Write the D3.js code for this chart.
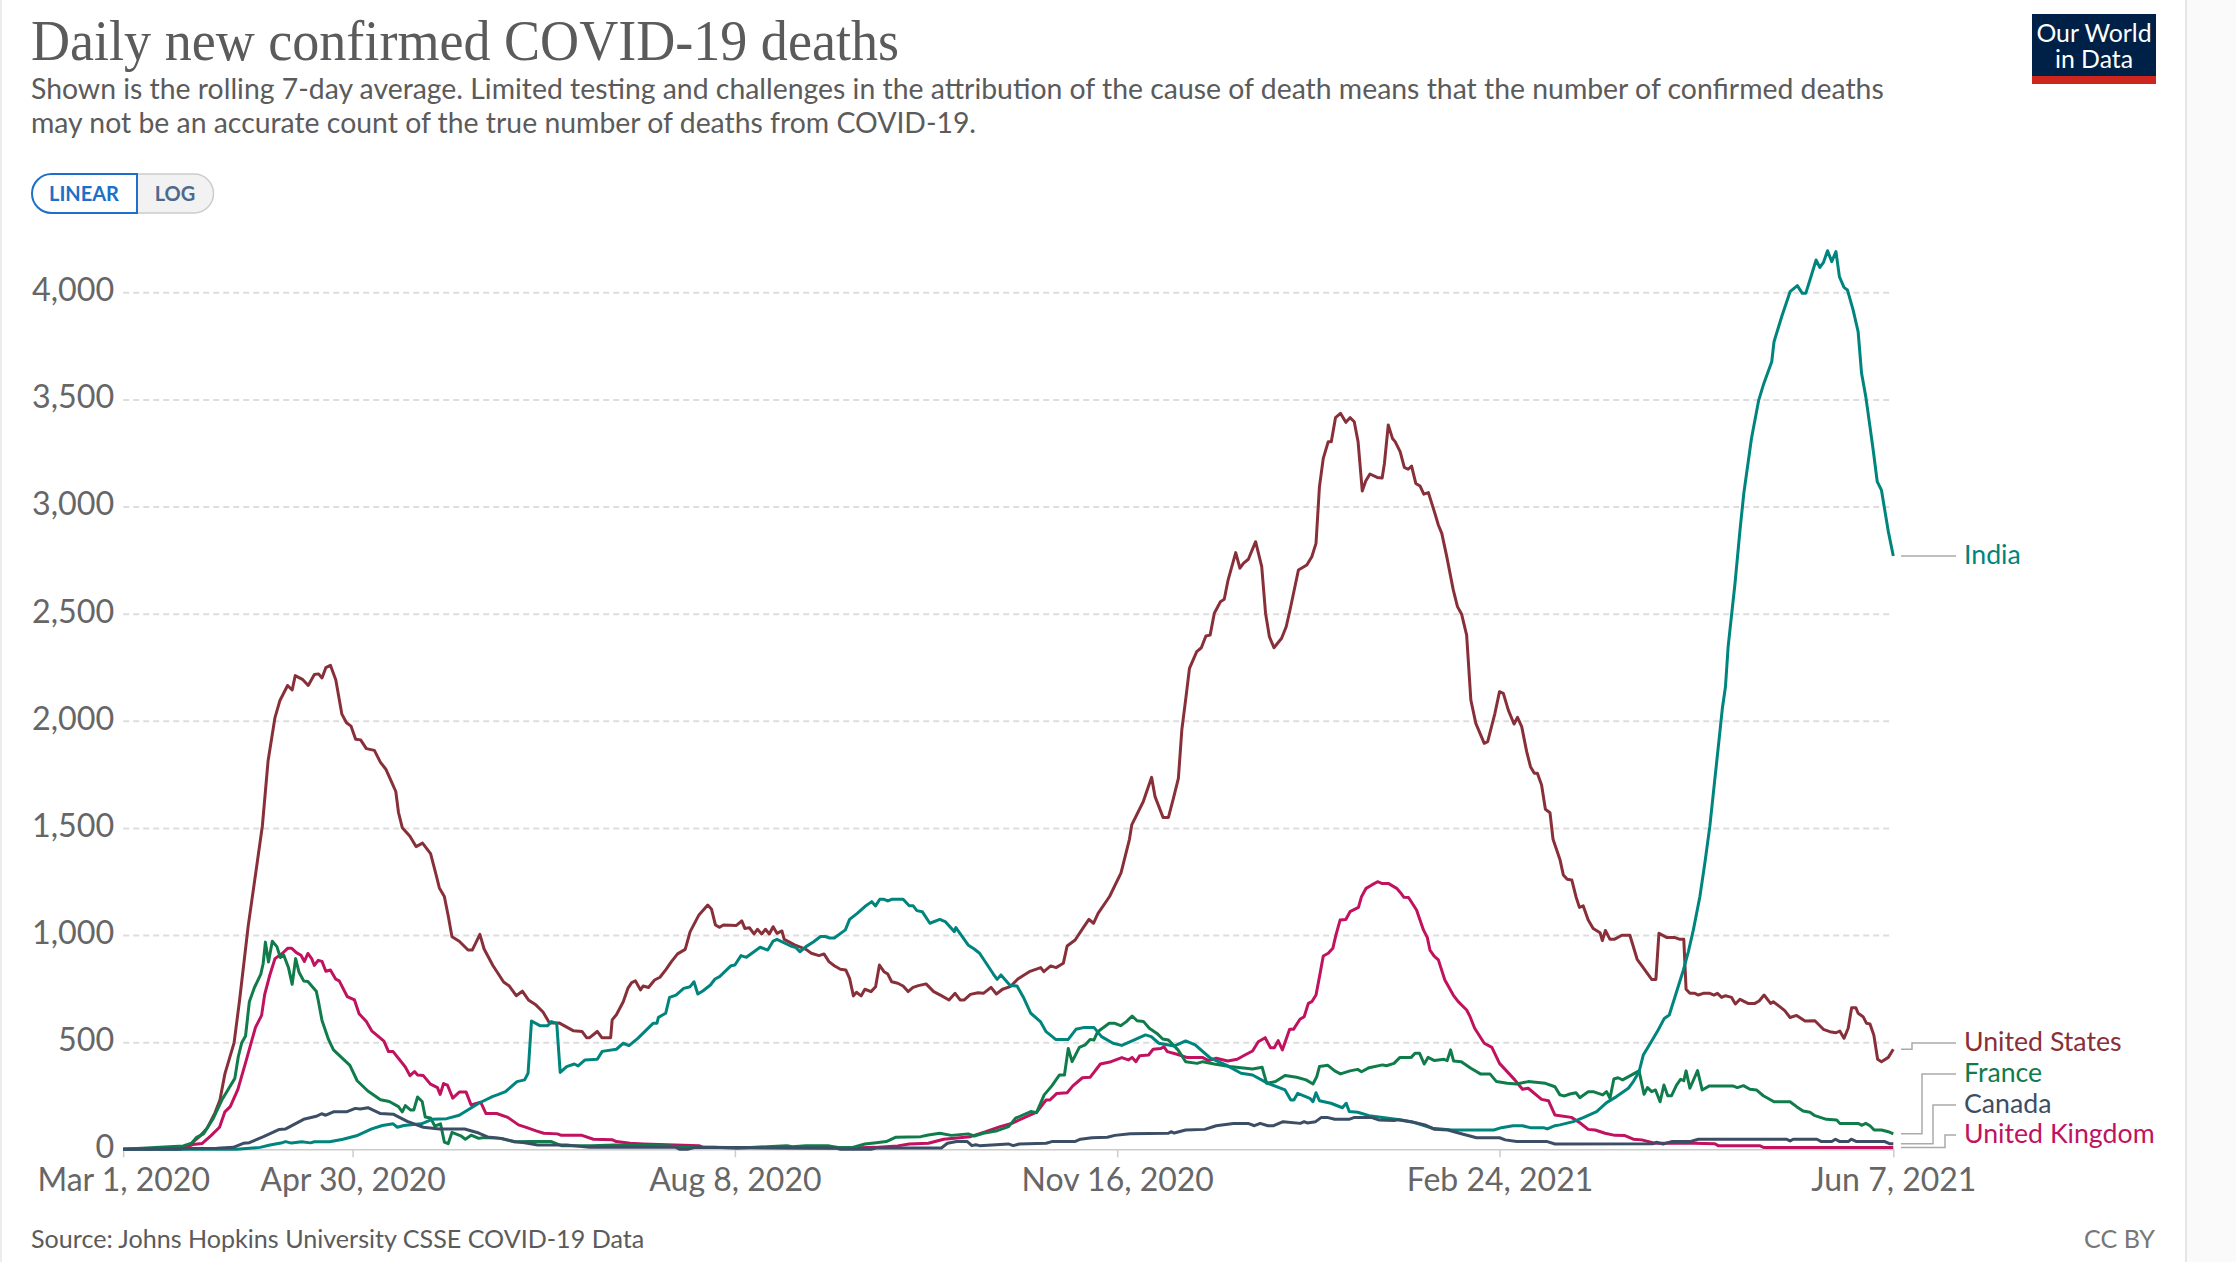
<!DOCTYPE html>
<html>
<head>
<meta charset="utf-8">
<title>Daily new confirmed COVID-19 deaths</title>
<script src="https://cdn.jsdelivr.net/npm/d3@7"></script>
<style>
    html, body { margin: 0; padding: 0; background: #fff; }
    svg { display: block; font-family: Lato, sans-serif; }
</style>
</head>
<body>
<svg id="chart" width="2236" height="1262"></svg>
<script>
// all series are [days since Mar 1 2020, deaths]
var unitedStates = [[0,0],[14,0],[16,5],[18,30],[20,60],[22,100],[24,170],[25.3,230],[26.6,352],[29,497],[30.4,690],[32.7,1043],[35,1332],[36.4,1509],[37.9,1814],[39.7,2015],[41,2095],[43,2165],[44.2,2144],[45,2211],[47,2192],[48.4,2165],[50,2216],[51.1,2219],[52,2200],[53,2248],[54.2,2259],[55.6,2192],[57.2,2031],[58.4,1991],[59.6,1975],[60.8,1914],[62.1,1911],[63.6,1870],[65.7,1862],[67.3,1806],[68.7,1774],[70.1,1718],[71.3,1670],[72,1573],[73,1501],[75,1461],[76.6,1413],[78.3,1429],[80.4,1380],[81.8,1284],[82.7,1220],[84,1180],[85,1091],[86,992],[87.9,971],[90.2,930],[91.3,930],[93.3,1003],[94.4,935],[96.7,858],[99.5,781],[101,762],[102.8,717],[104.4,738],[106,697],[108,673],[109.8,641],[111.5,590],[114,590],[117.8,553],[120,550],[121.2,521],[122,521],[124,550],[125.2,521],[127.5,521],[127.9,604],[129,628],[130.8,689],[132,751],[133,778],[134,786],[135.3,744],[136,762],[137.4,755],[139,790],[140.4,803],[142,840],[143.4,876],[145,912],[147,933],[148.3,1016],[150.6,1094],[152.9,1140],[153.9,1120],[154.9,1047],[156,1036],[157,1047],[160.4,1045],[161.8,1066],[162.6,1031],[163.8,1034],[165,1005],[165.9,1027],[167,1005],[168,1027],[169,1005],[170,1039],[171,1008],[172.3,1019],[172.9,980],[175.6,954],[178.6,933],[180,915],[182,904],[183.3,912],[184.6,876],[186,857],[187.6,840],[189,837],[190,798],[191,716],[191.8,733],[193,716],[194,747],[195.6,736],[196.8,759],[197.8,860],[199,829],[200,818],[201,782],[202.6,775],[204,762],[205.3,736],[206.6,756],[208,764],[210,772],[212,736],[214,717],[216,697],[217.6,728],[218.9,697],[220,697],[221.6,723],[223.6,731],[225,728],[227,756],[228.4,725],[230,747],[232,759],[234,795],[237,829],[240,848],[240.8,829],[242.6,856],[244,848],[245.9,868],[246.9,949],[249,977],[251,1031],[252.6,1073],[253.8,1055],[255,1101],[258,1180],[261,1290],[263.2,1447],[263.8,1514],[266.8,1622],[269,1736],[269.9,1646],[272,1549],[273.4,1549],[274.7,1638],[276,1731],[276.9,1957],[278,2113],[278.9,2245],[280.8,2323],[282,2341],[283.2,2396],[284.3,2400],[285.4,2502],[287,2556],[288,2567],[289,2657],[291,2785],[292.1,2712],[293,2735],[294.3,2754],[296.2,2836],[297.8,2720],[298.8,2502],[299.8,2393],[301,2341],[303,2385],[304.2,2439],[305.2,2517],[307.4,2704],[309.6,2727],[310.9,2766],[312,2828],[312.9,3093],[313.9,3225],[315.2,3303],[316,3303],[317.1,3415],[318.4,3435],[319.8,3393],[320.9,3415],[322,3396],[323,3303],[324.1,3073],[325,3119],[326.1,3152],[328,3136],[329.3,3133],[329.9,3202],[330.9,3381],[332,3318],[332.7,3303],[334,3256],[335.1,3183],[336.1,3174],[337,3189],[338.1,3108],[339.2,3096],[340.2,3058],[341.4,3065],[343.1,2968],[344,2914],[344.9,2875],[346.2,2766],[347.9,2611],[349,2533],[350.1,2497],[351.4,2400],[352.5,2097],[353.8,1988],[356,1895],[356.9,1903],[358.8,2035],[360,2136],[361,2128],[362.3,2050],[363.8,1985],[364.7,2016],[365.8,1973],[367.1,1856],[368.1,1786],[369.1,1755],[369.9,1755],[371,1700],[372,1587],[373.2,1571],[374,1447],[375.8,1353],[376.7,1280],[377.7,1260],[378.9,1257],[380,1179],[380.9,1129],[381.9,1136],[383.2,1070],[384.5,1031],[386.3,1011],[386.9,974],[387.7,1021],[388.9,980],[390,980],[392,999],[394.1,999],[396,887],[397.2,857],[399.8,793],[400.9,793],[401.7,1008],[403.7,989],[405.9,988],[407.2,980],[408.2,980],[408.8,747],[409.8,728],[411.1,728],[412,720],[413.3,728],[415,728],[416.1,720],[417,728],[418.1,709],[419.1,717],[420.7,709],[421.7,678],[422.9,700],[425,681],[426.8,681],[427.9,692],[429.2,720],[430.9,681],[431.6,689],[433.3,666],[434.6,647],[436,615],[437.7,625],[439.9,599],[442.5,600],[444.7,560],[446.4,549],[448,544],[449,552],[450.1,518],[451.2,565],[452.1,661],[453.2,661],[453.8,635],[455.1,619],[456,588],[456.9,585],[457.9,534],[458.9,420],[459.9,409],[461.7,429],[463,467]];

var india = [[0,0],[29.7,0],[35.8,9],[38.4,20],[41.6,31],[42.5,36],[44,29],[46.7,35],[49,30],[50,35],[54,35],[57.5,47],[61,63],[65,95],[67.8,111],[70.6,119],[71.7,103],[73.4,111],[78,119],[80.8,140],[84.6,143],[87.9,159],[93,215],[96.7,247],[98,255],[100,269],[103,316],[105,324],[105.9,355],[106.8,599],[109,577],[111,577],[112,596],[113.4,588],[114.3,359],[116,386],[118,398],[119,389],[120.8,417],[124,420],[125.3,457],[129,467],[130.8,495],[132.3,484],[134.6,518],[138.6,588],[139.6,588],[140,616],[141.9,635],[142.9,709],[144.6,720],[146.6,751],[148.3,759],[149.3,782],[150.3,725],[151.6,739],[153.6,767],[154.8,795],[156,806],[159,857],[160,860],[161.6,904],[163,896],[166.6,943],[168.6,930],[170,972],[171,980],[174.6,949],[176,941],[177,922],[178.6,946],[180.6,969],[182.4,993],[183.6,993],[184.8,986],[186,986],[188.9,1024],[190,1073],[192,1101],[194,1133],[195.8,1156],[196.8,1136],[197.9,1167],[199,1167],[200,1159],[201,1167],[204,1167],[205.6,1137],[206.6,1137],[207.6,1114],[209,1109],[211,1055],[213.6,1073],[215,1063],[217.4,1016],[217.8,1035],[221,954],[222.6,935],[224,915],[227.6,818],[228.6,793],[229.6,814],[232,765],[233.8,762],[235.6,705],[237.4,635],[239.9,596],[241.4,549],[243.9,513],[247.2,513],[249.2,560],[251.4,569],[253.9,569],[255.9,526],[258.9,495],[261.2,485],[263.9,506],[267.4,534],[268.9,526],[270.9,495],[274.9,482],[277.9,506],[280.4,487],[284.4,425],[288.4,394],[292.4,355],[295.4,347],[299.4,308],[303.9,277],[305.4,230],[306.2,230],[307.2,261],[310.4,238],[311.2,222],[312,264],[312.9,227],[315.9,215],[318.9,194],[319.9,215],[320.7,176],[322.9,173],[325.9,157],[329.4,148],[334.4,137],[336.9,129],[342.5,98],[347.5,90],[358.5,90],[360.5,101],[363.5,110],[366,110],[368,101],[371.5,101],[372.5,95],[374.5,110],[375.8,114],[379.3,129],[381.9,148],[385.4,176],[388,218],[390.6,246],[393.7,285],[395,316],[396.5,362],[397.6,440],[399.3,490],[401.5,557],[403.1,611],[404.4,627],[405.9,712],[408.1,837],[409.4,923],[410.7,1024],[412.4,1179],[413.7,1335],[415,1506],[416.3,1724],[417.6,1941],[418.3,2060],[419.1,2159],[419.8,2346],[421.6,2642],[422.9,2890],[423.9,3062],[425.9,3318],[427.8,3497],[429,3567],[431.2,3676],[431.8,3769],[433.8,3886],[436,4003],[437.9,4031],[439.2,3995],[440.1,3995],[441.6,4081],[442.8,4151],[443.8,4116],[444.7,4138],[445.8,4194],[446.9,4143],[448,4190],[448.9,4073],[450.1,4023],[451,4011],[452.5,3917],[453.8,3816],[454.7,3622],[455.8,3513],[456.9,3373],[457.8,3256],[458.8,3116],[459.9,3077],[461.7,2883],[463,2769]];

var france = [[0,0],[9.6,9],[15.7,16],[17.9,28],[19.2,56],[21,72],[23.6,145],[25.8,230],[27.1,269],[29.2,331],[30.1,432],[31,497],[32,529],[33,689],[34.3,754],[36,818],[36.6,866],[37.2,967],[38,874],[39,971],[40.2,946],[41.1,895],[42,906],[43.2,850],[44.2,770],[45.1,890],[46,826],[47.2,786],[48.3,783],[50.5,738],[51,697],[52,601],[53.7,513],[55,464],[59.3,392],[61.2,320],[64,272],[67.3,231],[69.6,223],[72,199],[73,175],[73.8,204],[75.2,183],[76,183],[77,244],[78.2,223],[79,151],[80.4,146],[81.5,108],[83,119],[84,34],[85,26],[86,79],[88.3,63],[89.5,47],[91,66],[93,51],[94.4,55],[98.6,51],[102.4,35],[106.6,36],[112,36],[114.6,17],[122.6,17],[128.6,20],[142.6,17],[146.6,9],[154.6,9],[160.6,5],[173.6,17],[175,12],[178.6,17],[184.6,16],[187,8],[190.6,8],[194,25],[197,31],[199.6,36],[202,56],[208.6,59],[210.6,67],[213.6,75],[216.6,65],[221,72],[222.6,62],[225,75],[228.6,87],[231.6,106],[233.4,145],[237.4,176],[238.9,171],[240.9,254],[242.9,296],[244.9,347],[246.2,347],[247.2,471],[248.2,409],[250.1,476],[251.6,487],[252.9,513],[253.9,510],[254.9,549],[257.9,588],[259.4,588],[260.9,577],[262.4,596],[263.9,622],[265.2,600],[266.9,596],[268.4,565],[270.4,541],[271.9,515],[273.4,510],[275.9,464],[277.9,409],[280.9,401],[282.4,409],[285.4,398],[289.4,386],[292.4,381],[295.4,375],[297.9,383],[299.1,308],[301.4,316],[303.9,344],[306.9,336],[309.4,324],[311.2,305],[312.2,339],[312.9,386],[315.1,392],[316.9,366],[318.4,352],[320.9,366],[322.9,373],[323.9,362],[325.9,381],[329.4,394],[330.4,390],[332.4,401],[333.9,428],[336.9,429],[337.9,448],[339.1,448],[340.3,398],[341.3,429],[343,414],[345.5,420],[346.3,414],[347.2,464],[348,412],[350,409],[352.5,378],[355,352],[357.5,352],[359.2,316],[362,308],[364.5,305],[367.5,316],[372,308],[374.5,292],[375.8,254],[377,249],[378.4,258],[380,264],[381,241],[383.2,269],[384.5,269],[387,254],[388,269],[388.9,238],[389.9,328],[391,334],[392.2,324],[396.5,366],[397.8,257],[398.7,288],[399.8,269],[400.8,277],[402,222],[403,300],[404,250],[405,250],[406.3,300],[407.4,327],[408.2,320],[408.8,366],[409.8,285],[411.8,367],[413,277],[414.9,296],[421,296],[422.2,288],[423.8,297],[425.5,280],[427.2,277],[429,250],[431.8,222],[436,222],[437.7,199],[439.4,179],[441.2,173],[442.5,157],[445.5,140],[448.2,137],[449,121],[453.8,121],[454.7,112],[455.8,121],[456.9,110],[458,90],[459.9,90],[461.7,82],[463,72]];

var canada = [[0,0],[24.5,5],[28.8,9],[31.4,28],[33,31],[36.7,59],[40.7,92],[42.5,95],[47.2,140],[50.5,154],[51.9,166],[53,159],[55,175],[58.4,175],[60.7,191],[62,188],[64,194],[67.3,167],[70.6,164],[74.3,130],[78.5,103],[82.7,95],[89.3,95],[93,76],[95.3,58],[99,51],[102.4,35],[105,31],[108.4,20],[116,20],[122,9],[144.6,9],[145.6,0],[147.6,0],[149.6,9],[186.6,6],[187.6,0],[195.6,0],[197,6],[214,6],[215.6,28],[218,36],[220.8,36],[222,17],[223,21],[224,17],[231.5,25],[232.8,17],[234.4,25],[241.4,28],[242.9,36],[248.9,36],[250.4,47],[253.4,54],[257.4,56],[259.4,65],[263.4,73],[273.4,75],[274.1,82],[274.9,76],[277.9,90],[282.9,93],[285.9,110],[290.4,120],[294.4,120],[295.9,110],[297.4,121],[299.4,110],[300.9,110],[303.4,129],[307.9,121],[308.9,129],[309.7,123],[311.9,129],[313.4,149],[314.9,149],[316.9,140],[320.6,140],[321.9,148],[326.4,149],[328.4,137],[332.4,134],[333.4,138],[337.5,126],[340.5,114],[343,93],[346.5,90],[350.5,70],[354,54],[360,54],[361.5,44],[364.5,36],[372.5,36],[374.5,25],[400.2,26],[401,33],[402.8,25],[405,36],[409.8,36],[412,47],[435,47],[436,39],[436.8,47],[443,47],[444.2,36],[446.9,36],[447.9,47],[449,36],[451.2,36],[452,47],[453.4,36],[460.8,36],[462,26],[463,26]];

var unitedKingdom = [[0,0],[15,0],[18.2,22],[20.6,27],[22.9,63],[25.2,103],[26.6,175],[28,199],[30,280],[32.2,416],[34.6,569],[36.2,625],[37,722],[38.3,810],[39.7,890],[41.6,914],[43,938],[44.1,938],[45.3,918],[46.5,906],[47.4,877],[48.3,914],[49.3,890],[50,858],[51,882],[52,877],[53,831],[54.2,837],[55.6,794],[56.5,786],[58.6,713],[60.5,697],[61.7,633],[63.6,596],[65,553],[68.2,505],[69.4,456],[70.6,456],[73.8,384],[75,344],[76.2,363],[77,347],[78.5,344],[80.4,304],[82.2,288],[82.9,256],[83.8,307],[84.8,300],[86.2,239],[87.9,267],[89.7,267],[91,207],[93.5,220],[94.9,167],[97.7,167],[100.6,149],[103.4,114],[105.6,101],[108,86],[110,75],[113.6,72],[114.6,65],[120,65],[123,47],[128,44],[129,36],[132.6,28],[136,25],[150.6,17],[151.6,9],[188.6,5],[196.6,9],[202.6,16],[205.6,25],[210.6,28],[214.6,47],[221.6,59],[225.6,82],[229.4,106],[232.4,121],[238.9,173],[241.4,230],[242.4,230],[244.2,261],[246.9,264],[248.4,296],[250.9,334],[252.9,336],[255.6,398],[258.4,409],[261.2,428],[262.9,417],[263.9,429],[264.9,409],[265.9,437],[268.2,440],[269.4,467],[271.4,470],[272.2,479],[273.1,456],[275.4,445],[278.4,428],[282.4,428],[283.9,414],[285.9,425],[288.9,412],[291.4,420],[293.4,440],[295.4,459],[296.9,502],[298.7,521],[300.1,474],[301.1,474],[302.1,507],[303.2,464],[305.1,560],[306.1,560],[307.8,607],[308.9,619],[310,681],[310.9,689],[312,720],[313,814],[313.9,902],[315.2,915],[316.4,938],[317.2,1000],[318.3,1070],[319.8,1073],[320.9,1109],[323.1,1129],[323.9,1179],[325.1,1218],[326.6,1234],[328.1,1249],[329.2,1241],[330.9,1241],[333.1,1218],[334.1,1198],[335,1176],[336.2,1175],[338.3,1117],[340.1,1024],[341.1,989],[341.8,930],[342.9,902],[344,884],[345.7,790],[347.9,720],[349.2,689],[351.4,650],[352.3,619],[353.5,565],[356,495],[358,476],[360,401],[364,324],[366,280],[367.5,285],[371,233],[372.8,227],[374.5,160],[375.8,157],[378.8,149],[381,124],[383.2,93],[385,90],[387.6,75],[390.2,65],[392.8,64],[395,47],[397.2,44],[400.6,28],[410.7,28],[416.3,26],[417.2,17],[428,17],[429.2,8],[463,8]];

var yTicks = [0, 500, 1000, 1500, 2000, 2500, 3000, 3500, 4000];
var xTickDays = [0, 60, 160, 260, 360, 463];

var titleText = "Daily new confirmed COVID-19 deaths";
var subtitleLines = [
    "Shown is the rolling 7-day average. Limited testing and challenges in the attribution of the cause of death means that the number of confirmed deaths",
    "may not be an accurate count of the true number of deaths from COVID-19."
];
var sourceText = "Source: Johns Hopkins University CSSE COVID-19 Data";

var startDate = new Date(Date.UTC(2020, 2, 1));

function dayToDate(d) {
    return new Date(startDate.getTime() + d * 86400000);
}

var x = d3.scaleUtc().domain([dayToDate(0), dayToDate(463)]).range([123.2, 1893.3]);
var y = d3.scaleLinear().domain([0, 4000]).range([1149.3, 292.3]);

var svg = d3.select("#chart");

// page panel
svg.append("rect").attr("width", 2236).attr("height", 1262).attr("fill", "#fff");
svg.append("rect").attr("x", 2186).attr("width", 50).attr("height", 1262).attr("fill", "#fafafa");
svg.append("rect").attr("x", 2185).attr("width", 2).attr("height", 1262).attr("fill", "#e6e6e6");
svg.append("rect").attr("x", 0).attr("width", 2).attr("height", 1262).attr("fill", "#ececec");

// header
svg.append("text").attr("x", 31).attr("y", 60)
    .attr("font-family", "'Liberation Serif', serif")
    .attr("font-size", 56).attr("fill", "#5b5b5b")
    .attr("textLength", 868).attr("lengthAdjust", "spacingAndGlyphs")
    .text(titleText);

svg.selectAll("text.subtitle").data(subtitleLines).enter().append("text")
    .attr("class", "subtitle")
    .attr("x", 31)
    .attr("y", function (d, i) { return 99 + i * 34; })
    .attr("font-size", 28.38).attr("fill", "#5b5b5b")
    .text(function (d) { return d; });

// logo
svg.append("rect").attr("x", 2032).attr("y", 14).attr("width", 124).attr("height", 70).attr("fill", "#002147");
svg.append("rect").attr("x", 2032).attr("y", 76).attr("width", 124).attr("height", 8).attr("fill", "#ce261e");
svg.selectAll("text.logo").data(["Our World", "in Data"]).enter().append("text")
    .attr("class", "logo")
    .attr("x", 2094)
    .attr("y", function (d, i) { return 42 + i * 26; })
    .attr("text-anchor", "middle").attr("font-size", 24.8).attr("fill", "#fff")
    .text(function (d) { return d; });

// linear / log toggle
svg.append("path")
    .attr("d", "M137 174H194a19.5 19.5 0 0 1 0 39H137Z")
    .attr("fill", "#f2f2f2").attr("stroke", "#ccc").attr("stroke-width", 1.5);
svg.append("path")
    .attr("d", "M137 174H51.5a19.5 19.5 0 0 0 0 39H137Z")
    .attr("fill", "#fff").attr("stroke", "#1d6fc9").attr("stroke-width", 2);
svg.append("text").attr("x", 84).attr("y", 201).attr("text-anchor", "middle")
    .attr("font-size", 20).attr("font-weight", 700).attr("fill", "#1d6fc9").text("LINEAR");
svg.append("text").attr("x", 175).attr("y", 201).attr("text-anchor", "middle")
    .attr("font-size", 20).attr("font-weight", 700).attr("fill", "#4c6a8c").text("LOG");

// y axis with dashed grid
var yAxis = d3.axisLeft(y).tickValues(yTicks).tickFormat(d3.format(",")).tickSize(-1766).tickPadding(9);
var yG = svg.append("g").attr("transform", "translate(123.2,0)").call(yAxis);
yG.select(".domain").remove();
yG.selectAll(".tick line").attr("stroke", "#ddd").attr("stroke-width", 2).attr("stroke-dasharray", "6,4");
yG.selectAll(".tick").filter(function (d) { return d === 0; }).select("line").remove();
yG.selectAll(".tick text").attr("font-size", 32.3).attr("font-family", "Lato, sans-serif").attr("fill", "#666").attr("y", -2);

// x axis
var xAxis = d3.axisBottom(x)
    .tickValues(xTickDays.map(dayToDate))
    .tickFormat(d3.utcFormat("%b %-d, %Y"))
    .tickSize(8).tickSizeOuter(0).tickPadding(11);
var xG = svg.append("g").attr("transform", "translate(0,1149.3)").call(xAxis);
xG.select(".domain").attr("stroke", "#ccc").attr("stroke-width", 1.5);
xG.selectAll(".tick line").attr("stroke", "#ccc").attr("stroke-width", 1.5);
xG.selectAll(".tick text").attr("font-size", 32).attr("font-family", "Lato, sans-serif").attr("fill", "#666");

var line = d3.line()
    .x(function (d) { return x(dayToDate(d[0])); })
    .y(function (d) { return y(d[1]); });

// drawn back to front, labelY and elbowX place the label connectors on the right
var series = [
    {name: "United States", values: unitedStates, color: "#883039", labelY: 1043, elbowX: 1912},
    {name: "United Kingdom", values: unitedKingdom, color: "#c0125f", labelY: 1135, elbowX: 1945},
    {name: "France", values: france, color: "#107c4b", labelY: 1074, elbowX: 1922},
    {name: "India", values: india, color: "#00847e", labelY: y(india[india.length - 1][1]), elbowX: 1928},
    {name: "Canada", values: canada, color: "#3c4e66", labelY: 1105, elbowX: 1933}
];

svg.selectAll("path.series").data(series).enter().append("path")
    .attr("class", "series")
    .attr("d", function (s) { return line(s.values); })
    .attr("fill", "none")
    .attr("stroke", function (s) { return s.color; })
    .attr("stroke-width", 3)
    .attr("stroke-linejoin", "round");

svg.selectAll("path.connector").data(series).enter().append("path")
    .attr("class", "connector")
    .attr("d", function (s) {
        var endY = y(s.values[s.values.length - 1][1]);
        return "M1901 " + endY + "H" + s.elbowX + "V" + s.labelY + "H1956";
    })
    .attr("fill", "none").attr("stroke", "#aaa").attr("stroke-width", 1.5);

svg.selectAll("text.label").data(series).enter().append("text")
    .attr("class", "label")
    .attr("x", 1964)
    .attr("y", function (s) { return s.labelY - 2; })
    .attr("dy", "0.36em")
    .attr("font-size", 26.7)
    .attr("fill", function (s) { return s.color; })
    .text(function (s) { return s.name; });

// footer
svg.append("text").attr("x", 31).attr("y", 1248).attr("font-size", 25.1).attr("fill", "#5b5b5b").text(sourceText);
svg.append("text").attr("x", 2155).attr("y", 1248).attr("text-anchor", "end").attr("font-size", 25.1).attr("fill", "#777").text("CC BY");
</script>
</body>
</html>
